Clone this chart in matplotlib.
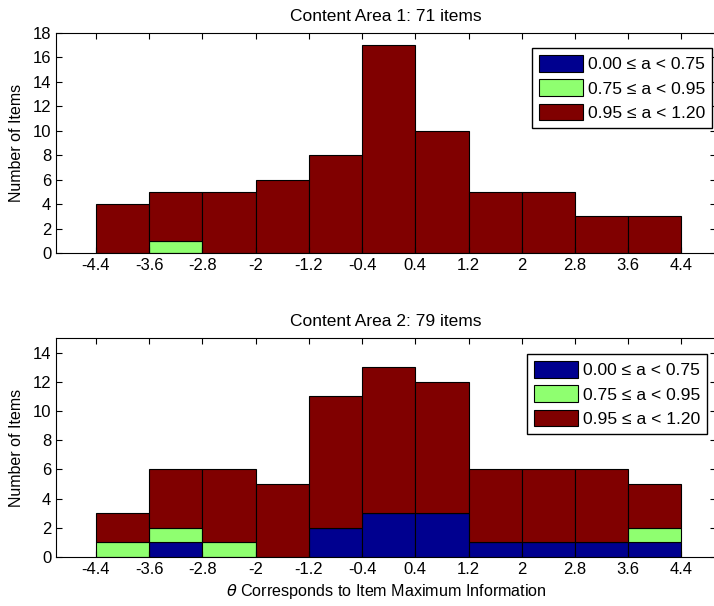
import numpy as np
import matplotlib.pyplot as plt

plt.rcParams['font.family'] = ['Liberation Sans', 'DejaVu Sans']

# bin edges of theta at maximum information
edges = [-4.4, -3.6, -2.8, -2.0, -1.2, -0.4, 0.4, 1.2, 2.0, 2.8, 3.6, 4.4]
edge_labels = ['-4.4', '-3.6', '-2.8', '-2', '-1.2', '-0.4', '0.4', '1.2', '2', '2.8', '3.6', '4.4']
group_labels = ['0.00 \u2264 a < 0.75', '0.75 \u2264 a < 0.95', '0.95 \u2264 a < 1.20']

# item counts per bin, by discrimination group
area1_low = [0, 0, 0, 0, 0, 0, 0, 0, 0, 0, 0]
area1_mid = [0, 1, 0, 0, 0, 0, 0, 0, 0, 0, 0]
area1_high = [4, 4, 5, 6, 8, 17, 10, 5, 5, 3, 3]

area2_low = [0, 1, 0, 0, 2, 3, 3, 1, 1, 1, 1]
area2_mid = [1, 1, 1, 0, 0, 0, 0, 0, 0, 0, 1]
area2_high = [2, 4, 5, 5, 9, 10, 9, 5, 5, 5, 3]

colors = ['#00008f', '#8fff70', '#800000']


def stacked_hist(ax, groups, title, ymax, yticks, leg_anchor):
    left = np.array(edges[:-1])
    width = np.diff(edges)
    bottom = np.zeros(len(left))
    for vals, col, lab in zip(groups, colors, group_labels):
        vals = np.array(vals)
        ax.bar(left, vals, width=width, bottom=bottom, align='edge',
               color=col, edgecolor='black', linewidth=0.8, label=lab)
        bottom += vals
    ax.set_xlim(-5.0, 4.92)
    ax.set_ylim(0, ymax)
    ax.set_xticks(edges)
    ax.set_xticklabels(edge_labels)
    ax.set_yticks(yticks)
    ax.tick_params(direction='in', top=True, right=True, labelsize=12, length=4)
    ax.set_ylabel('Number of Items', fontsize=11.5, labelpad=6)
    ax.set_title(title, fontsize=12.5, pad=8.5)
    ax.legend(loc='upper right', bbox_to_anchor=leg_anchor, fontsize=12.6,
              handlelength=2.55, handleheight=1.1,
              fancybox=False, edgecolor='black', framealpha=1,
              borderaxespad=0, labelspacing=0.4, handletextpad=0.25,
              borderpad=0.4)


fig = plt.figure(figsize=(7.14, 6.06), dpi=100)
ax1 = fig.add_axes([56 / 714, 1 - 253 / 606, 660 / 714, 220 / 606])
ax2 = fig.add_axes([56 / 714, 1 - 557 / 606, 660 / 714, 219 / 606])

stacked_hist(ax1, [area1_low, area1_mid, area1_high], 'Content Area 1: 71 items',
             18, range(0, 19, 2), (0.994, 0.932))
stacked_hist(ax2, [area2_low, area2_mid, area2_high], 'Content Area 2: 79 items',
             15, range(0, 15, 2), (0.986, 0.927))
ax2.set_xlabel(r'$\theta$' + ' Corresponds to Item Maximum Information', fontsize=11.6)

fig.savefig('out.png', dpi=100)
